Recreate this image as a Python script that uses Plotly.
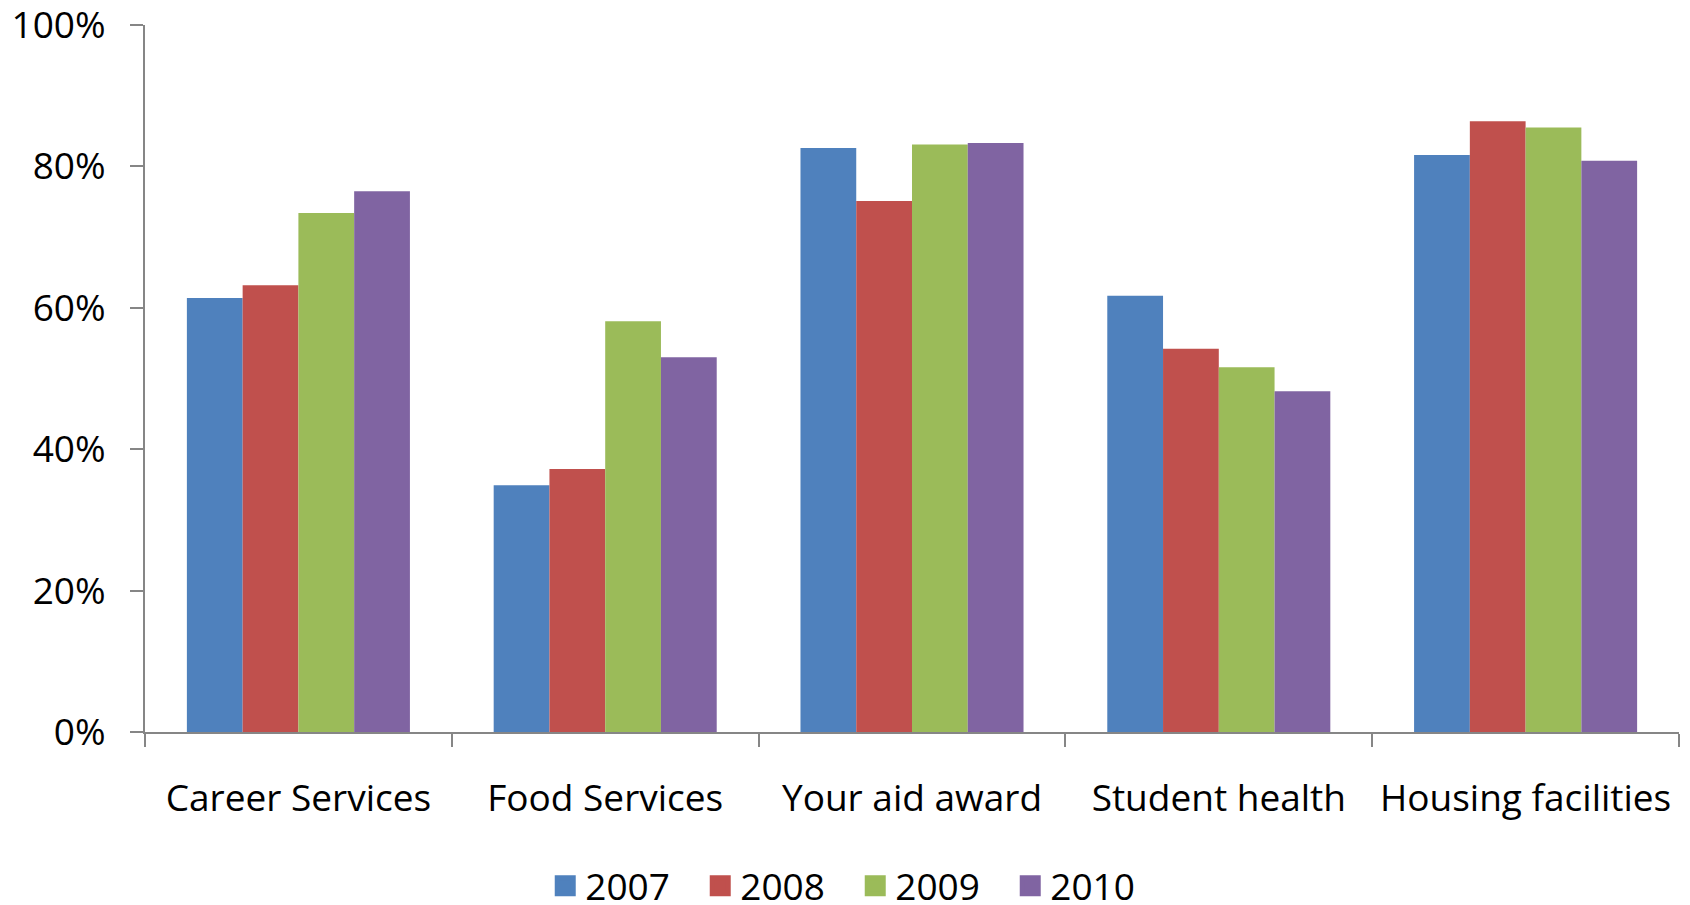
import plotly.graph_objects as go

categories = ["Career Services", "Food Services", "Your aid award", "Student health", "Housing facilities"]
years = ["2007", "2008", "2009", "2010"]
v2007 = [0.614, 0.349, 0.826, 0.617, 0.816]
v2008 = [0.632, 0.372, 0.751, 0.542, 0.864]
v2009 = [0.734, 0.581, 0.831, 0.516, 0.855]
v2010 = [0.765, 0.530, 0.833, 0.482, 0.808]
series = [v2007, v2008, v2009, v2010]
colors = ["#4F81BD", "#C0504D", "#9BBB59", "#8064A2"]
ytick_vals = [0, 0.2, 0.4, 0.6, 0.8, 1.0]

FONT = "Open Sans"
FS = 37
fig = go.Figure()
for name, vals, col in zip(years, series, colors):
    fig.add_trace(go.Bar(x=categories, y=vals, name=name, marker=dict(color=col, line=dict(width=0)),
                         showlegend=False))
for name, col in zip(years, colors):
    fig.add_trace(go.Scatter(x=[None], y=[None], mode="markers", name=name,
                             marker=dict(symbol="square", size=16, color=col, line=dict(color=col, width=5))))

# page body has an 8px default margin, so the figure is sized to end at the window edge
fig.update_layout(
    width=1682, height=897,
    margin=dict(l=137, r=11, t=17, b=173, autoexpand=False),
    paper_bgcolor="white", plot_bgcolor="white",
    barmode="group", bargap=0.273, bargroupgap=0,
    font=dict(family=FONT, size=FS, color="black"),
    legend=dict(orientation="h", x=0.463, xanchor="center", y=-0.218, yanchor="middle",
                entrywidth=110, entrywidthmode="pixels",
                font=dict(family=FONT, size=FS, color="black"), itemclick=False),
    showlegend=True,
)
fig.update_xaxes(showline=True, linecolor="#868686", linewidth=2, ticks="outside", tickson="boundaries",
                 ticklen=13, tickwidth=2, tickcolor="#868686", showgrid=False, ticklabelstandoff=33,
                 tickfont=dict(family=FONT, size=FS, color="black"))
fig.update_yaxes(range=[0, 1], tickvals=ytick_vals, tickformat=".0%", showline=True, linecolor="#868686",
                 linewidth=2, ticks="outside", ticklen=13, tickwidth=2, tickcolor="#868686",
                 showgrid=False, zeroline=False, ticklabelstandoff=17, ticklabeloverflow="allow",
                 tickfont=dict(family=FONT, size=FS, color="black"))

fig.write_html("out.html")
